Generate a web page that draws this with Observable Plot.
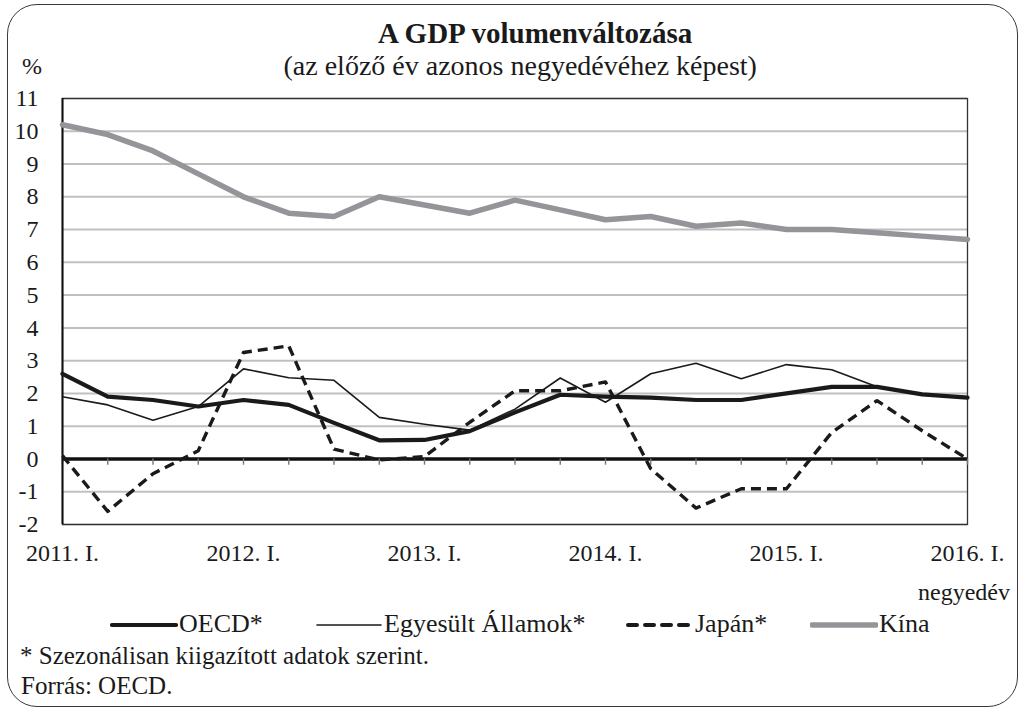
<!DOCTYPE html>
<html><head><meta charset="utf-8">
<script src="https://cdn.jsdelivr.net/npm/d3@7"></script>
<script src="https://cdn.jsdelivr.net/npm/@observablehq/plot@0.6"></script>
<style>
body{margin:0;background:#fff;}
#wrap{position:relative;width:1027px;height:712px;font-family:"Liberation Serif","DejaVu Serif",serif;color:#1a1a1a;overflow:hidden;background:#fff}
.frame{position:absolute;left:7px;top:4px;width:1011px;height:703px;border:1.5px solid #3a3a3a;border-radius:30px;box-sizing:border-box}
.t{position:absolute;line-height:1;white-space:nowrap}
#chart{position:absolute;left:0;top:0}
.sw{position:absolute}
</style></head><body>
<div id="wrap"><div class="frame"></div><div id="chart"></div></div>
<script>
// ---- data ----
const quarters = [
  "2011. I.","2011. II.","2011. III.","2011. IV.",
  "2012. I.","2012. II.","2012. III.","2012. IV.",
  "2013. I.","2013. II.","2013. III.","2013. IV.",
  "2014. I.","2014. II.","2014. III.","2014. IV.",
  "2015. I.","2015. II.","2015. III.","2015. IV.",
  "2016. I."
];
const labelledQuarters = ["2011. I.","2012. I.","2013. I.","2014. I.","2015. I.","2016. I."];
const oecd  = [2.6, 1.9, 1.8, 1.6, 1.8, 1.65, 1.1, 0.57, 0.58, 0.85, 1.42, 1.96, 1.9, 1.87, 1.8, 1.8, 2.0, 2.2, 2.2, 1.97, 1.87];
const usa   = [1.9, 1.65, 1.18, 1.6, 2.75, 2.48, 2.4, 1.27, 1.06, 0.88, 1.52, 2.47, 1.73, 2.6, 2.92, 2.45, 2.88, 2.72, 2.2, 1.95, 1.9];
const japan = [0.1, -1.6, -0.45, 0.25, 3.25, 3.45, 0.3, -0.03, 0.07, 1.12, 2.08, 2.08, 2.35, -0.3, -1.5, -0.91, -0.91, 0.81, 1.78, 0.86, 0.0];
const china = [10.2, 9.9, 9.4, 8.7, 8.0, 7.5, 7.4, 8.0, 7.75, 7.5, 7.9, 7.6, 7.3, 7.4, 7.1, 7.2, 7.0, 7.0, 6.9, 6.8, 6.7];
const yTicks = [-2,-1,0,1,2,3,4,5,6,7,8,9,10,11];
const seriesNames = ["OECD*", "Egyesült Államok*", "Japán*", "Kína"];

const title = "A GDP volumenváltozása";
const subtitle = "(az előző év azonos negyedévéhez képest)";
const yUnit = "%";
const xUnit = "negyedév";
const notes = ["* Szezonálisan kiigazított adatok szerint.", "Forrás: OECD."];

// ---- styles per series ----
const styles = [
  {stroke: "#1a1a1a", strokeWidth: 4.2, dash: null},
  {stroke: "#1a1a1a", strokeWidth: 1.6, dash: null},
  {stroke: "#1a1a1a", strokeWidth: 3.4, dash: "10,6"},
  {stroke: "#939598", strokeWidth: 5.5, dash: null}
];
const values = [oecd, usa, japan, china];
const rows = (arr) => arr.map((v, i) => ({i, q: quarters[i], v}));
const idx = quarters.map((q, i) => i);
const labelIdx = labelledQuarters.map(l => quarters.indexOf(l));

const lineMarks = values.map((arr, k) => Plot.line(rows(arr), {
  x: "i", y: "v", stroke: styles[k].stroke, strokeWidth: styles[k].strokeWidth,
  strokeDasharray: styles[k].dash, strokeLinejoin: "round", strokeLinecap: styles[k].dash ? "butt" : "round"
}));

const plot = Plot.plot({
  width: 1027, height: 712,
  marginLeft: 62, marginRight: 60, marginTop: 98, marginBottom: 188,
  style: {fontFamily: "'Liberation Serif', 'DejaVu Serif', serif", fontSize: "24px", color: "#1a1a1a", background: "transparent", overflow: "visible"},
  x: {domain: [0, quarters.length - 1]},
  y: {domain: [-2, 11]},
  marks: [
    Plot.ruleY(yTicks, {stroke: "#c0c0c0", strokeWidth: 2}),
    Plot.frame({stroke: "#333", strokeWidth: 1.3}),
    Plot.ruleY([0], {stroke: "#111", strokeWidth: 3.5}),
    Plot.ruleX(idx, {x: d => d, y1: 0, y2: -0.19, stroke: "#777", strokeWidth: 1.4}),
    Plot.ruleX([0], {stroke: "#111", strokeWidth: 2}),
    ...lineMarks,
    Plot.axisY({ticks: yTicks, tickSize: 0, tickPadding: 24, label: null, tickFormat: d => String(d)}),
    Plot.axisX({ticks: labelIdx, tickFormat: i => quarters[i], tickSize: 0, tickPadding: 19, label: null})
  ]
});
const wrap = document.getElementById("wrap");
document.getElementById("chart").appendChild(plot);

function addText(txt, css) {
  const d = document.createElement("div");
  d.className = "t";
  d.textContent = txt;
  Object.assign(d.style, css);
  wrap.appendChild(d);
  return d;
}
// title & subtitle, centred
const tEl = addText(title, {fontWeight: "bold", fontSize: "29px", top: "19px"});
const sEl = addText(subtitle, {fontSize: "28px", top: "52px"});
tEl.style.left = (535 - tEl.offsetWidth / 2) + "px";
sEl.style.left = (520 - sEl.offsetWidth / 2) + "px";
addText(yUnit, {fontSize: "24px", left: "22px", top: "54px"});
addText(xUnit, {fontSize: "24px", right: "17px", top: "580px"});
addText(notes[0], {fontSize: "25px", left: "20px", top: "643px"});
addText(notes[1], {fontSize: "25px", left: "21px", top: "673px"});

// legend
const legendLeft = [110, 315, 626, 810];
seriesNames.forEach((name, k) => {
  const ns = "http://www.w3.org/2000/svg";
  const svg = document.createElementNS(ns, "svg");
  svg.setAttribute("width", 68); svg.setAttribute("height", 12);
  svg.setAttribute("class", "sw");
  svg.style.left = legendLeft[k] + "px"; svg.style.top = "619px";
  const ln = document.createElementNS(ns, "line");
  ln.setAttribute("x1", 2); ln.setAttribute("x2", 66); ln.setAttribute("y1", 6); ln.setAttribute("y2", 6);
  ln.setAttribute("stroke", styles[k].stroke);
  ln.setAttribute("stroke-width", styles[k].strokeWidth + (k === 2 ? 0.6 : 0));
  ln.setAttribute("stroke-linecap", "round");
  if (styles[k].dash) { ln.setAttribute("stroke-dasharray", "9,8"); }
  svg.appendChild(ln);
  wrap.appendChild(svg);
  addText(name, {fontSize: "26px", left: (legendLeft[k] + 69) + "px", top: "611px"});
});
</script>
</body></html>
